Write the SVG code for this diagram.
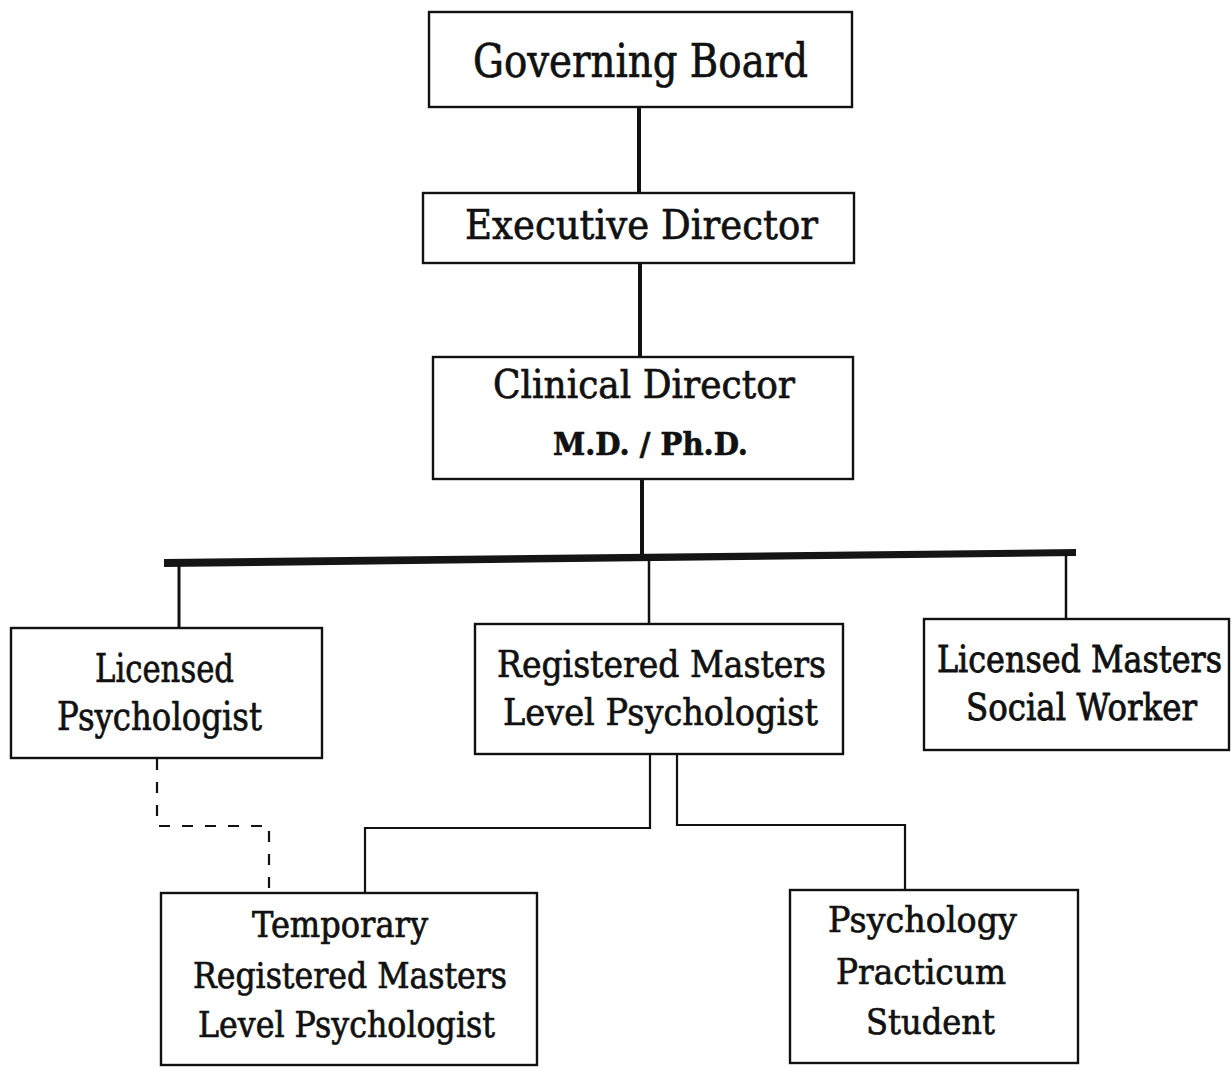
<svg xmlns="http://www.w3.org/2000/svg" width="1231" height="1068" viewBox="0 0 1231 1068">
<style>
.box{fill:#fff;stroke:#111;stroke-width:2.4}
.t{font-family:"DejaVu Serif","Liberation Serif",serif;fill:#111;stroke:#111;stroke-width:0.7;text-anchor:start}
.c{fill:none;stroke:#111;stroke-linecap:square}
</style>
<rect width="1231" height="1068" fill="#fff"/>
<g id="connectors">
<line class="c" x1="639" y1="107" x2="639" y2="193" stroke-width="4"/>
<line class="c" x1="640" y1="263" x2="640" y2="357" stroke-width="4"/>
<line class="c" x1="642" y1="479" x2="642" y2="553" stroke-width="4"/>
<polygon points="164,559 1076,549 1076,556 164,567" fill="#151515"/>
<line class="c" x1="179" y1="566" x2="179" y2="628" stroke-width="3"/>
<line class="c" x1="649" y1="558" x2="649" y2="624" stroke-width="2.5"/>
<line class="c" x1="1066" y1="555" x2="1066" y2="619" stroke-width="2.5"/>
<polyline class="c" points="650,754 650,828 365,828 365,893" stroke-width="2.2"/>
<polyline class="c" points="677,754 677,825 905,825 905,890" stroke-width="2.2"/>
<polyline points="157,759 157,826 269,826 269,893" fill="none" stroke="#111" stroke-width="2.2" stroke-dasharray="11,12"/>
</g>
<g id="governing-board">
<rect class="box" x="429" y="12" width="423" height="95"/>
<text class="t" x="473" y="77" font-size="46" textLength="335" lengthAdjust="spacingAndGlyphs">Governing Board</text>
</g>
<g id="executive-director">
<rect class="box" x="423" y="193" width="431" height="70"/>
<text class="t" x="465" y="239" font-size="41" textLength="353" lengthAdjust="spacingAndGlyphs">Executive Director</text>
</g>
<g id="clinical-director">
<rect class="box" x="433" y="357" width="420" height="122"/>
<text class="t" x="493" y="398" font-size="39" textLength="302" lengthAdjust="spacingAndGlyphs">Clinical Director</text>
<text class="t" x="553" y="455" font-size="32" font-weight="bold" textLength="195" lengthAdjust="spacingAndGlyphs">M.D. / Ph.D.</text>
</g>
<g id="licensed-psychologist">
<rect class="box" x="11" y="628" width="311" height="130"/>
<text class="t" x="95" y="682" font-size="39" textLength="139" lengthAdjust="spacingAndGlyphs">Licensed</text>
<text class="t" x="57" y="730" font-size="39" textLength="205" lengthAdjust="spacingAndGlyphs">Psychologist</text>
</g>
<g id="registered-masters">
<rect class="box" x="475" y="624" width="368" height="130"/>
<text class="t" x="497" y="677" font-size="38" textLength="329" lengthAdjust="spacingAndGlyphs">Registered Masters</text>
<text class="t" x="503" y="725" font-size="38" textLength="315" lengthAdjust="spacingAndGlyphs">Level Psychologist</text>
</g>
<g id="licensed-masters-social-worker">
<rect class="box" x="924" y="619" width="305" height="131"/>
<text class="t" transform="translate(937,672) scale(1,1.27)" x="0" y="0" font-size="30" textLength="285" lengthAdjust="spacingAndGlyphs">Licensed Masters</text>
<text class="t" transform="translate(966,720) scale(1,1.27)" x="0" y="0" font-size="30" textLength="231" lengthAdjust="spacingAndGlyphs">Social Worker</text>
</g>
<g id="temporary-registered-masters">
<rect class="box" x="161" y="893" width="376" height="172"/>
<text class="t" x="252" y="937" font-size="35" textLength="176" lengthAdjust="spacingAndGlyphs">Temporary</text>
<text class="t" x="193" y="988" font-size="35" textLength="314" lengthAdjust="spacingAndGlyphs">Registered Masters</text>
<text class="t" x="198" y="1037" font-size="35" textLength="297" lengthAdjust="spacingAndGlyphs">Level Psychologist</text>
</g>
<g id="psychology-practicum-student">
<rect class="box" x="790" y="890" width="288" height="173"/>
<text class="t" x="828" y="932" font-size="36" textLength="189" lengthAdjust="spacingAndGlyphs">Psychology</text>
<text class="t" x="836" y="984" font-size="36" textLength="170" lengthAdjust="spacingAndGlyphs">Practicum</text>
<text class="t" x="866" y="1034" font-size="36" textLength="129" lengthAdjust="spacingAndGlyphs">Student</text>
</g>
</svg>
